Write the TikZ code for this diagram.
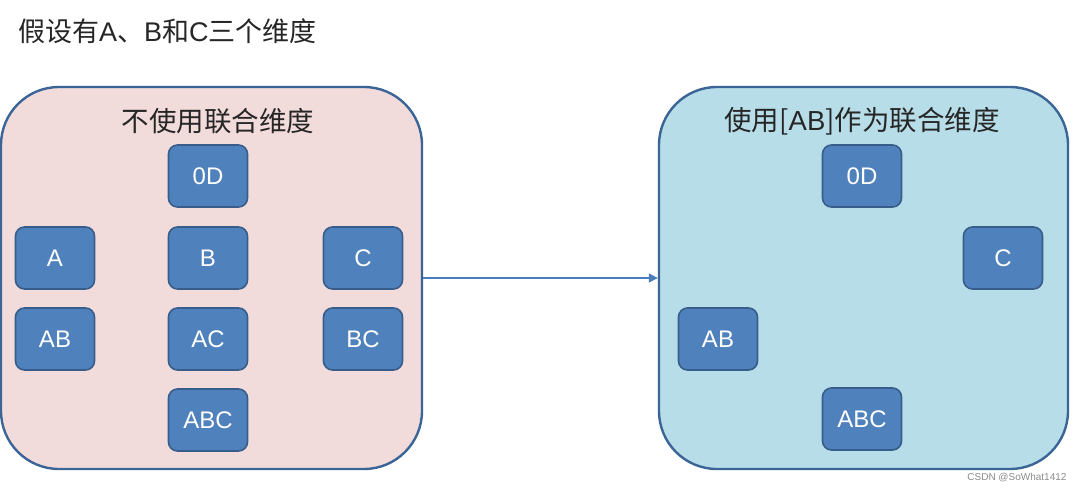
\documentclass[tikz,border=0pt]{standalone}
\usepackage{fontspec}
\setmainfont{Liberation Sans}
\newfontfamily\cjk{Noto Sans CJK SC}
\newcommand{\lat}[1]{{\rmfamily #1}}
\definecolor{pinkbg}{HTML}{F2DCDB}
\definecolor{bluebg}{HTML}{B7DEE8}
\definecolor{boxline}{HTML}{3A6596}
\definecolor{nodefill}{HTML}{4F81BD}
\definecolor{nodeline}{HTML}{385D8A}
\definecolor{arrowcol}{HTML}{4A7EBB}
\usetikzlibrary{arrows.meta}
\tikzset{
  dimbox/.style={draw=nodeline, line width=1.6pt, fill=nodefill, rounded corners=9pt,
    minimum width=79pt, minimum height=62pt, text=white, inner sep=0pt,
    font=\fontsize{24}{24}\selectfont},
  groupbox/.style={draw=boxline, line width=2.4pt, rounded corners=58pt},
  grouptitle/.style={font=\cjk\fontsize{27.5}{27.5}\selectfont, text=black!85},
}
\begin{document}
\begin{tikzpicture}[x=1pt,y=-1pt]
\useasboundingbox[fill=white] (0,0) rectangle (1080,490);
\node[anchor=west, inner sep=0pt, font=\cjk\fontsize{27}{27}\selectfont, text=black!85] (title) at (18,31) {假设有\lat{A}、\lat{B}和\lat{C}三个维度};
% left group
\draw[groupbox, fill=pinkbg] (1,87) rectangle (422,469);
\node[grouptitle] (lt) at (218,121) {不使用联合维度};
\node[dimbox] (l0D) at (208,176) {0D};
\node[dimbox] (lA) at (55,258) {A};
\node[dimbox] (lB) at (208,258) {B};
\node[dimbox] (lC) at (363,258) {C};
\node[dimbox] (lAB) at (55,339) {AB};
\node[dimbox] (lAC) at (208,339) {AC};
\node[dimbox] (lBC) at (363,339) {BC};
\node[dimbox] (lABC) at (208,420) {ABC};
% right group
\draw[groupbox, fill=bluebg] (659,87) rectangle (1068,469);
\node[grouptitle] (rt) at (862,121) {使用[\lat{AB}]作为联合维度};
\node[dimbox] (r0D) at (862,176) {0D};
\node[dimbox] (rC) at (1003,258) {C};
\node[dimbox] (rAB) at (718,339) {AB};
\node[dimbox] (rABC) at (862,419) {ABC};
% arrow
\coordinate (as) at (423.2,278);
\coordinate (ae) at (657.8,278);
\draw[arrowcol, line width=1.3pt, -{Triangle[length=9pt,width=9pt]}] (as) -- (ae);
% watermark
\node[anchor=east, text=black!45, font=\fontsize{10}{10}\selectfont] (wm) at (1070,478) {CSDN @SoWhat1412};
\end{tikzpicture}
\end{document}
